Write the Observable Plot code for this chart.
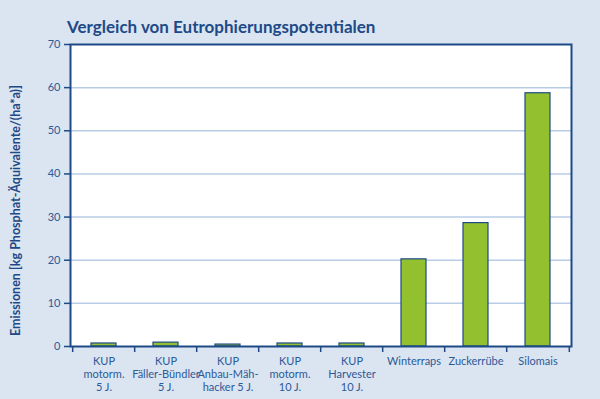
<!DOCTYPE html>
<html><head><meta charset="utf-8">
<script src="https://cdn.jsdelivr.net/npm/d3@7"></script>
<script src="https://cdn.jsdelivr.net/npm/@observablehq/plot@0.6"></script>
<style>
html,body{margin:0;padding:0;background:#dbe4f1;}
#wrap{width:600px;height:399px;background:#dbe4f1;overflow:hidden;}
#title{font-family:Lato,"Open Sans",sans-serif;font-weight:bold;font-size:17px;color:#1d4a86;padding-left:67px;height:38px;box-sizing:border-box;padding-top:18px;line-height:17px;}
</style></head>
<body><div id="wrap"><div id="title">Vergleich von Eutrophierungspotentialen</div><div id="chart"></div></div>
<script>
const categories = ["KUP\nmotorm.\n5 J.", "KUP\nFäller-Bündler\n5 J.", "KUP\nAnbau-Mäh-\nhacker 5 J.", "KUP\nmotorm.\n10 J.", "KUP\nHarvester\n10 J.", "Winterraps", "Zuckerrübe", "Silomais"];
const values = [0.7, 0.9, 0.45, 0.7, 0.7, 20.2, 28.6, 58.7];
const yTicks = [0, 10, 20, 30, 40, 50, 60, 70];
const yLabel = "Emissionen [kg Phosphat-Äquivalente/(ha*a)]";

const data = categories.map((c, i) => ({cat: c, v: values[i]}));
const W = 600, H = 361, ML = 70, MR = 29, MT = 6, MB = 53;
const half = (W - ML - MR) / categories.length / 2;
const dark = "#1d4a86", text = "#2b5a97", grid = "#b9cce6";

const chart = Plot.plot({
  width: W, height: H,
  marginLeft: ML, marginRight: MR, marginTop: MT, marginBottom: MB,
  style: {background: "transparent", fontFamily: "Lato, 'Open Sans', sans-serif", fontSize: "10.5px", color: text, overflow: "visible"},
  x: {domain: categories, paddingInner: 0.59, paddingOuter: 0.295},
  y: {domain: [0, 70], ticks: yTicks},
  marks: [
    Plot.frame({fill: "white"}),
    Plot.gridY(yTicks.filter(t => t > 0 && t < 70), {stroke: grid, strokeOpacity: 1, strokeWidth: 1.5}),
    Plot.barY(data, {x: "cat", y: "v", fill: "#92c02e", stroke: dark, strokeWidth: 1.2}),
    Plot.frame({stroke: dark, strokeWidth: 2}),
    Plot.axisY(yTicks, {tickSize: 6, tickPadding: 4, stroke: dark, strokeWidth: 1.5, fill: text, fontSize: 11, label: null}),
    Plot.axisX(categories, {tickSize: 6, dx: -half, text: null, stroke: dark, strokeWidth: 1.5, label: null}),
    Plot.axisX(categories.slice(-1), {tickSize: 6, dx: half, text: null, stroke: dark, strokeWidth: 1.5, label: null}),
    Plot.axisX(categories, {tickSize: 0, tickPadding: 10, fill: text, fontSize: 11, lineHeight: 1.15, textOverflow: null, lineWidth: Infinity, label: null}),
    Plot.text([yLabel], {frameAnchor: "left", textAnchor: "middle", dx: -55, dy: 15, rotate: -90, fill: dark, fontSize: 12.5, fontWeight: "bold"})
  ]
});
document.getElementById("chart").appendChild(chart);
</script></body></html>
